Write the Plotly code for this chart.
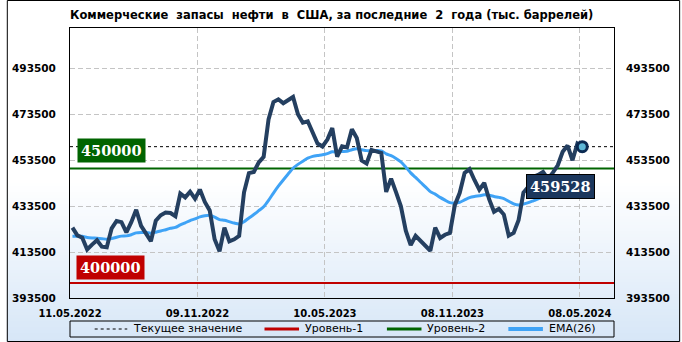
import pandas as pd
import plotly.graph_objects as go

# ---------------- data (thousand barrels, weekly EIA releases) ----------------
release_dates = pd.date_range("2022-05-11", periods=105, freq="7D")

stocks = [
    424200, 420800, 419800, 414700, 416800, 418700, 415900, 415600, 423900, 427100,
    426600, 422100, 426600, 432000, 425000, 421700, 418300, 427200, 429600, 430800,
    430600, 429200, 439100, 437400, 439900, 436800, 440800, 435400, 431700, 419100,
    413900, 424200, 418200, 419100, 420600, 439600, 448000, 448500, 452700, 455100,
    471400, 479000, 480200, 478500, 480100, 481200, 473700, 470000, 470600, 466000,
    460900, 459600, 462600, 467600, 455200, 459700, 459200, 467100, 463300, 453500,
    452200, 458100, 457400, 456800, 439800, 445600, 439700, 433500, 422900, 416600,
    420600, 418500, 416300, 414100, 424200, 419700, 421100, 421900, 434000, 439400,
    448100, 449700, 445000, 440800, 443700, 436600, 431100, 432400, 429900, 420700,
    421900, 427400, 439500, 442000, 446400, 447200, 448500, 445500, 448200, 451400,
    457300, 460000, 453600, 460900, 459528,
]

ema26 = [
    420400, 420400, 420400, 419900, 419700, 419600, 419400, 419100, 419400, 420000,
    420500, 420600, 421100, 421900, 422100, 422100, 421800, 422200, 422700, 423300,
    423900, 424300, 425400, 426300, 427300, 428000, 428900, 429400, 429600, 428800,
    427700, 427400, 426800, 426200, 425800, 426800, 428400, 429900, 431600, 433300,
    436100, 439300, 442300, 445000, 447600, 450100, 451800, 453200, 454500, 455300,
    455700, 456000, 456500, 457300, 457200, 457400, 457500, 458200, 458600, 458200,
    457800, 457800, 457800, 457700, 456400, 455600, 454400, 452900, 450600, 448100,
    446100, 444000, 442000, 439900, 438800, 437400, 436200, 435100, 435000, 435300,
    436300, 437300, 437800, 438100, 438500, 438300, 437800, 437400, 436900, 435700,
    434600, 434100, 434500, 435100, 435900, 436700, 437600, 438200, 438900, 439900,
    441100, 442500, 443400, 444700, 445800,
]

level_1 = 400000
level_2 = 450000
tick_dates = ["2022-05-11", "2022-11-09", "2023-05-10", "2023-11-08", "2024-05-08"]
y_ticks = [393500, 413500, 433500, 453500, 473500, 493500]

title_text = "Коммерческие  запасы  нефти  в  США, за последние  2  года (тыс. баррелей)"
legend_names = ["Текущее значение", "Уровень-1", "Уровень-2", "EMA(26)"]

# ---------------- layout geometry ----------------
W, H = 682, 342
M_L, M_R, M_T, M_B = 64, 67, 28, 44
PLOT_W = W - M_L - M_R
PLOT_H = H - M_T - M_B


def px_x(x):
    return (x - M_L) / PLOT_W


def px_y(y):
    return (H - M_B - y) / PLOT_H


y_range = [393500, 511300]
x_range = [pd.Timestamp("2022-05-11"), pd.Timestamp("2024-06-25 19:00")]

# points sit in the middle of their weekly slot
x_week = release_dates + pd.Timedelta(hours=84)
last_x = x_week[-1]
last_v = stocks[-1]

NAVY = "#243F60"
EMA_BLUE = "#3FA3F6"
RED = "#C00000"
GREEN = "#006400"

fig = go.Figure()

fig.add_trace(go.Scatter(x=x_range, y=[last_v, last_v], mode="lines",
                         line=dict(color="black", width=1, dash="3px,3px"),
                         name=legend_names[0], showlegend=False, hoverinfo="skip"))
fig.add_trace(go.Scatter(x=x_range, y=[level_1, level_1], mode="lines",
                         line=dict(color=RED, width=2),
                         name=legend_names[1], showlegend=False, hoverinfo="skip"))
fig.add_trace(go.Scatter(x=x_range, y=[level_2, level_2], mode="lines",
                         line=dict(color=GREEN, width=2),
                         name=legend_names[2], showlegend=False, hoverinfo="skip"))
fig.add_trace(go.Scatter(x=x_week, y=ema26, mode="lines",
                         line=dict(color=EMA_BLUE, width=3, shape="spline", smoothing=0.6),
                         name=legend_names[3], showlegend=False))
fig.add_trace(go.Scatter(x=x_week, y=stocks, mode="lines",
                         line=dict(color=NAVY, width=4),
                         name="Запасы", showlegend=False))
fig.add_trace(go.Scatter(x=[last_x], y=[last_v], mode="markers",
                         marker=dict(size=10, color="#5DB7D6", line=dict(color="#0B2A52", width=3)),
                         showlegend=False, hoverinfo="skip"))
# carrier for the mirrored right axis
fig.add_trace(go.Scatter(x=[last_x], y=[last_v], mode="markers", yaxis="y2",
                         marker=dict(size=1, opacity=0), showlegend=False, hoverinfo="skip"))

tick_font = dict(family="DejaVu Sans", size=10.5, color="black", weight="bold")

fig.update_layout(
    width=W, height=H,
    margin=dict(l=M_L, r=M_R, t=M_T, b=M_B, pad=0),
    paper_bgcolor="white",
    plot_bgcolor="rgba(0,0,0,0)",
    showlegend=False,
    title=dict(text=title_text, x=70 / W, xanchor="left", xref="container",
               y=1 - 15 / H, yanchor="middle", yref="container",
               font=dict(family="DejaVu Sans", size=11.5, color="black", weight="bold")),
    xaxis=dict(type="date", range=x_range, tickvals=tick_dates, tickformat="%d.%m.%Y",
               showgrid=True, gridcolor="#C4C4C4", griddash="5px,3px", gridwidth=1,
               showline=True, mirror=True, linecolor="black", linewidth=1,
               ticks="", ticklabelstandoff=6, zeroline=False,
               tickfont=dict(family="DejaVu Sans", size=10, color="black", weight="bold")),
    yaxis=dict(range=y_range, tickvals=y_ticks, tickformat="d",
               showgrid=True, gridcolor="#C4C4C4", griddash="5px,3px", gridwidth=1,
               showline=True, mirror=True, linecolor="black", linewidth=1,
               ticks="", ticklabelstandoff=11, zeroline=False, tickfont=tick_font),
    yaxis2=dict(range=y_range, tickvals=y_ticks, tickformat="d", overlaying="y",
                side="right", anchor="x", showgrid=False, zeroline=False,
                ticks="", ticklabelstandoff=11, tickfont=tick_font),
)

# ---------------- background gradient (white -> light blue) ----------------
shapes = []
g_top, g_bot, step = 180, 342, 3
c0, c1 = (255, 255, 255), (214, 230, 247)
y = g_top
while y < g_bot:
    t = (y - g_top) / (g_bot - g_top)
    col = tuple(round(c0[i] + (c1[i] - c0[i]) * t) for i in range(3))
    shapes.append(dict(type="rect", xref="paper", yref="paper", layer="below",
                       x0=px_x(0), x1=px_x(W), y0=px_y(min(y + step, g_bot)), y1=px_y(y),
                       line=dict(width=0), fillcolor="rgb(%d,%d,%d)" % col))
    y += step

# outer frame
shapes.append(dict(type="rect", xref="paper", yref="paper", layer="above",
                   x0=px_x(0.5), x1=px_x(W - 0.5), y0=px_y(H - 0.5), y1=px_y(0.5),
                   line=dict(color="black", width=1)))

# ---------------- manual legend ----------------
leg_top, leg_bot = 321, 337
leg_mid = (leg_top + leg_bot) / 2
shapes.append(dict(type="rect", xref="paper", yref="paper", layer="above",
                   x0=0, x1=1, y0=px_y(leg_bot), y1=px_y(leg_top),
                   line=dict(color="black", width=1)))
leg_items = [
    (89, 122, dict(color="black", width=1, dash="3px,3px")),
    (261, 296, dict(color=RED, width=3)),
    (385, 420, dict(color=GREEN, width=3)),
    (508, 543, dict(color=EMA_BLUE, width=4)),
]
annotations = []
for (xa, xb, ln), name in zip(leg_items, legend_names):
    shapes.append(dict(type="line", xref="paper", yref="paper", layer="above",
                       x0=px_x(xa), x1=px_x(xb), y0=px_y(leg_mid), y1=px_y(leg_mid), line=ln))
    annotations.append(dict(text=name, xref="paper", yref="paper", x=px_x(xb + 4), y=px_y(leg_mid),
                            xanchor="left", yanchor="middle", showarrow=False,
                            font=dict(family="DejaVu Sans", size=11, color="black")))

# ---------------- value boxes ----------------
box_font = dict(family="DejaVu Serif", size=14.5, color="white", weight="bold")
annotations.append(dict(text=str(level_2), xref="paper", yref="y", x=0, y=level_2,
                        xanchor="left", yanchor="bottom", xshift=7, yshift=6, showarrow=False,
                        bgcolor=GREEN, borderpad=3, font=box_font))
annotations.append(dict(text=str(level_1), xref="paper", yref="y", x=0, y=level_1,
                        xanchor="left", yanchor="bottom", xshift=6, yshift=3, showarrow=False,
                        bgcolor=RED, borderpad=3, font=box_font))
annotations.append(dict(text=str(last_v), xref="x", yref="y", x=last_x, y=last_v,
                        xanchor="right", yanchor="top", xshift=13, yshift=-27, showarrow=False,
                        bgcolor="#1B375D", bordercolor="black", borderwidth=1, borderpad=3,
                        font=box_font))

fig.update_layout(shapes=shapes, annotations=annotations)

fig.write_html("out.html")
